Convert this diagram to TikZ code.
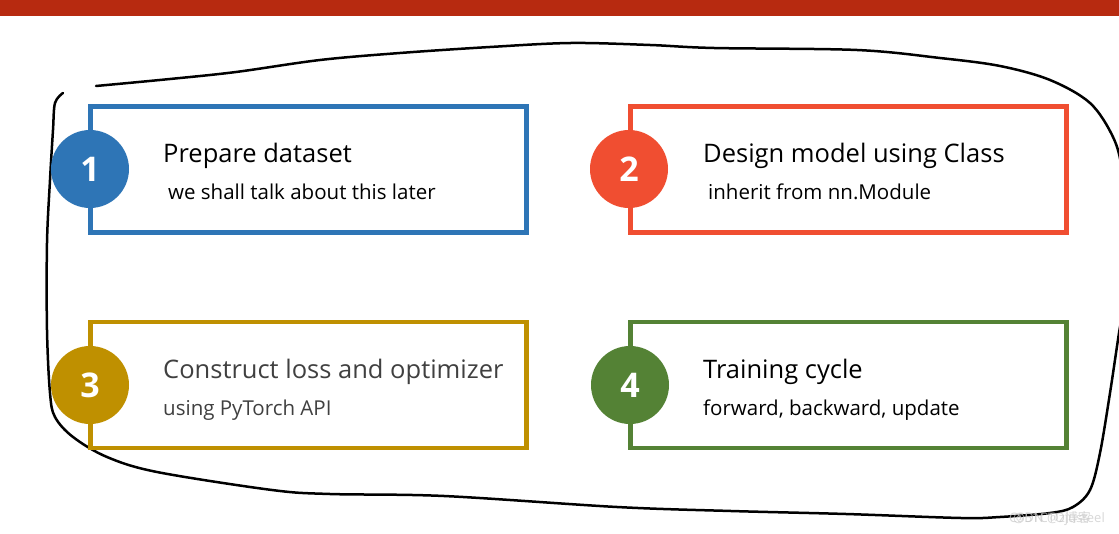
\documentclass[tikz,border=0pt]{standalone}
\usepackage{fontspec}
\setmainfont{Open Sans}
\newfontfamily\cjkf{Noto Sans CJK SC}
\definecolor{barred}{HTML}{B72A10}
\definecolor{cblue}{HTML}{2E75B6}
\definecolor{cred}{HTML}{F04E31}
\definecolor{cgold}{HTML}{BF9000}
\definecolor{cgreen}{HTML}{548235}
\definecolor{ctext}{HTML}{404040}
\tikzset{
  card/.style={draw=#1, line width=4.5pt, minimum width=436pt, minimum height=126pt, inner sep=0pt, outer sep=0pt, anchor=north west},
  badge/.style={circle, fill=#1, minimum size=78pt, inner sep=0pt, text=white, font=\fontsize{34}{34}\selectfont\bfseries},
  title/.style={anchor=base west, inner sep=0pt, font=\fontsize{25.5}{25.5}\selectfont},
  sub/.style={anchor=base west, inner sep=0pt, font=\fontsize{20.5}{20.5}\selectfont},
  loop/.style={line width=2.5pt, black, line cap=round, line join=round},
  wmark/.style={text=gray!45, font=\fontsize{13}{13}\selectfont, inner sep=0pt}
}
\begin{document}
\begin{tikzpicture}[x=1pt,y=-1pt]
\useasboundingbox (0,0) rectangle (1119,534);
\fill[barred] (0,0) rectangle (1119,16);
% hand-drawn loop
\draw[loop] plot[smooth, tension=0.55] coordinates {
 (96,86) (170,79) (236,72) (320,60) (400,53) (490,47) (571,43) (650,45) (714,48)
 (857,50) (940,58) (1000,66) (1050,80) (1090,103) (1113,137) (1122,170) (1127,230)
 (1126,290) (1119,333) (1110,393) (1100,453) (1090,490) (1073,507) (1050,513) (1000,517)
 (961,518) (846,514) (731,511) (617,507) (444,496) (330,494) (272,490) (157,472) (107,457)
 (73,437) (55,417) (50,393) (47,330) (47,243) (50,180) (53,130) (55,103) (63,93)};
% cards
\node[card=cblue]  (b1) at (90.5,106.5) {};
\node[card=cred]   (b2) at (630.5,106.5) {};
\node[card=cgold]  (b3) at (90.5,322) {};
\node[card=cgreen] (b4) at (630.5,322) {};
% badges
\node[badge=cblue]  (c1) at (90,169) {1};
\node[badge=cred]   (c2) at (629,169) {2};
\node[badge=cgold]  (c3) at (90,385) {3};
\node[badge=cgreen] (c4) at (630,385) {4};
% texts
\node[title] (t1) at (163,163) {Prepare dataset};
\node[sub]   (s1) at (168,200) {we shall talk about this later};
\node[title] (t2) at (703,163) {Design model using Class};
\node[sub]   (s2) at (708,200) {inherit from nn.Module};
\node[title, text=ctext] (t3) at (163,378) {Construct loss and optimizer};
\node[sub, text=ctext]   (s3) at (163,416) {using PyTorch API};
\node[title] (t4) at (703,378) {Training cycle};
\node[sub]   (s4) at (703,416) {forward, backward, update};
% watermark (two overlaid marks, as in the source)
\node[wmark, anchor=base east, opacity=0.7] (w1) at (1105,522) {\rlap{\hspace{4pt}@51CTO{\cjkf 博客}}CSDN @zjusteel};
\end{tikzpicture}
\end{document}
